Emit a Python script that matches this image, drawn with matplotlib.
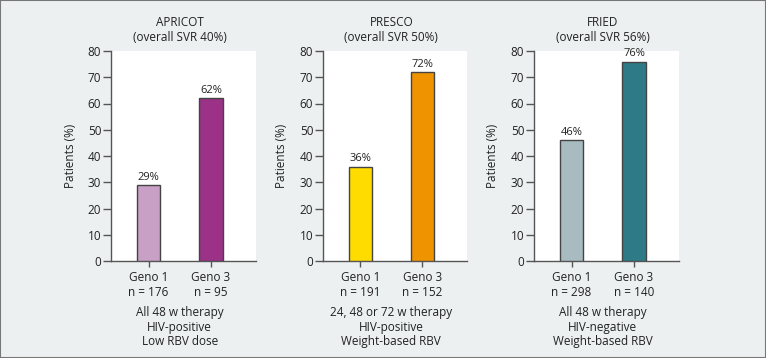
import matplotlib
matplotlib.use("Agg")
import matplotlib.pyplot as plt
from matplotlib.patches import Rectangle
from matplotlib import transforms

plt.rcParams['font.family'] = ['Open Sans', 'DejaVu Sans']

# data
studies = ["APRICOT", "PRESCO", "FRIED"]
overall_svr = [40, 50, 56]
genotypes = ["Geno 1", "Geno 3"]
svr_geno1 = [29, 36, 46]
svr_geno3 = [62, 72, 76]
n_geno1 = [176, 191, 298]
n_geno3 = [95, 152, 140]
notes = [
    "All 48 w therapy\nHIV-positive\nLow RBV dose",
    "24, 48 or 72 w therapy\nHIV-positive\nWeight-based RBV",
    "All 48 w therapy\nHIV-negative\nWeight-based RBV",
]
colors = [
    ["#c8a0c5", "#9b3288"],
    ["#ffdc00", "#f09300"],
    ["#a8bbc1", "#2e7b87"],
]

W, H = 766, 358
fig = plt.figure(figsize=(W / 100, H / 100), dpi=100)
fig.patch.set_facecolor("#edf0f1")
fig.patches.append(Rectangle((0, 0), 1, 1, transform=fig.transFigure,
                             fill=False, edgecolor="#777777", linewidth=1.5))

# axes boxes in pixels: left, right
boxes = [(111, 256), (323, 467), (534, 679)]
ylabel_x = [77, 288, 499]
top, bottom = 51, 261
dark = "#444444"

for i, study in enumerate(studies):
    l, r = boxes[i]
    ax = fig.add_axes([l / W, (H - bottom) / H, (r - l) / W, (bottom - top) / H])
    ax.set_facecolor("white")
    vals = [svr_geno1[i], svr_geno3[i]]
    xs = [0, 1]
    ax.bar(xs, vals, width=0.37, color=colors[i], edgecolor=dark, linewidth=1, zorder=3)
    for x, v in zip(xs, vals):
        ax.text(x, v + 0.8, f"{v}%", ha="center", va="bottom", fontsize=8, color="#222222")
    ax.set_xlim(-0.6, 1.72)
    ax.set_ylim(0, 80)
    ax.set_yticks(range(0, 81, 10))
    ax.set_xticks(xs)
    ax.set_xticklabels([f"{genotypes[0]}\nn = {n_geno1[i]}",
                        f"{genotypes[1]}\nn = {n_geno3[i]}"], linespacing=1.25)
    for s in ["top", "right"]:
        ax.spines[s].set_visible(False)
    for s in ["left", "bottom"]:
        ax.spines[s].set_color("#555555")
        ax.spines[s].set_linewidth(1)
    ax.tick_params(axis="y", length=6, width=1, color="#555555", labelsize=8.5,
                   labelcolor="#222222", pad=1)
    ax.tick_params(axis="x", length=4, width=1, color="#555555", labelsize=8.5,
                   labelcolor="#222222", pad=3)
    ax.set_ylabel("Patients (%)", fontsize=8.5, color="#222222")
    ax.yaxis.set_label_coords((ylabel_x[i] - l) / (r - l), 0.5)

    trans = transforms.blended_transform_factory(ax.transData, ax.transAxes)
    ax.text(0.5, 1.035, f"{study}\n(overall SVR {overall_svr[i]}%)", transform=trans,
            ha="center", va="bottom", fontsize=8.5, color="#222222", linespacing=1.2)
    ax.text(0.5, -0.215, notes[i], transform=trans, ha="center", va="top",
            fontsize=8.5, color="#222222", linespacing=1.15)

fig.savefig("out.png", dpi=100, facecolor=fig.get_facecolor())
